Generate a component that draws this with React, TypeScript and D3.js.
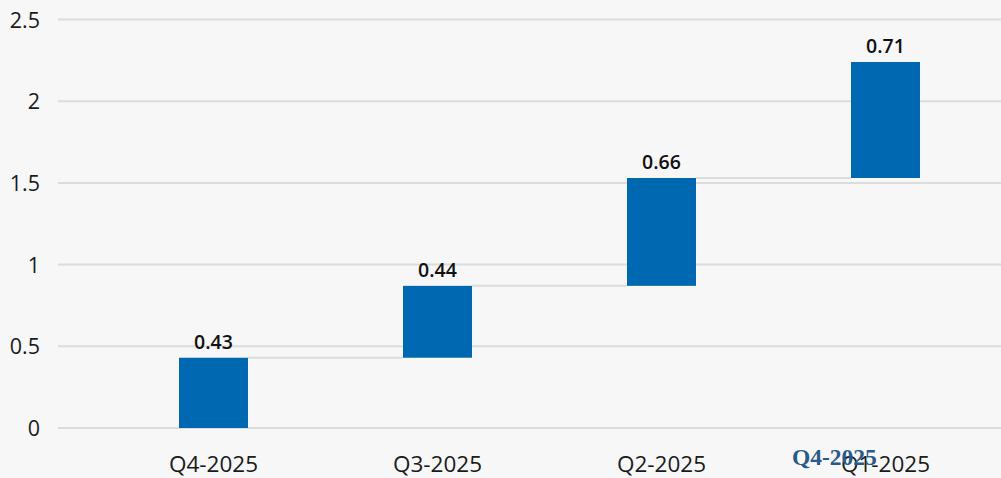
import React, { useEffect, useRef } from 'react';
import * as d3 from 'd3';

const categories = ['Q4-2025', 'Q3-2025', 'Q2-2025', 'Q1-2025'];
const values = [0.43, 0.44, 0.66, 0.71];
const yTicks = [0, 0.5, 1, 1.5, 2, 2.5];
const stray = 'Q4-2025';

const W = 1001;
const H = 478;

const App: React.FC = () => {
  const svgRef = useRef<SVGSVGElement>(null);

  useEffect(() => {
    if (!svgRef.current) return;
    const svg = d3.select(svgRef.current);
    svg.selectAll('*').remove();

    svg.append('rect').attr('width', W).attr('height', H).attr('fill', '#f7f7f7');

    const x = d3.scaleBand()
      .domain(categories)
      .range([101.5, 997.5])
      .paddingInner(0.692)
      .paddingOuter(0.346);

    const y = d3.scaleLinear().domain([0, 2.5]).range([428, 19.5]);

    // cumulative waterfall steps
    let acc = 0;
    const steps = values.map((v, i) => {
      const start = acc;
      acc += v;
      return { cat: categories[i], v, start, end: acc };
    });

    // grid
    svg.append('g')
      .selectAll('line')
      .data(yTicks)
      .join('line')
      .attr('x1', 58)
      .attr('x2', W)
      .attr('y1', d => y(d))
      .attr('y2', d => y(d))
      .attr('stroke', '#dcdcdc')
      .attr('stroke-width', 2);

    svg.append('g')
      .selectAll('text')
      .data(yTicks)
      .join('text')
      .attr('x', 40)
      .attr('y', d => y(d) + 8)
      .attr('text-anchor', 'end')
      .style('font-family', '"Open Sans", sans-serif')
      .style('font-size', '21.5px')
      .style('fill', '#1a1a1a')
      .text(d => String(d));

    // connectors
    svg.append('g')
      .selectAll('line')
      .data(steps.slice(0, -1))
      .join('line')
      .attr('x1', d => (x(d.cat) || 0) + x.bandwidth())
      .attr('x2', (d, i) => x(steps[i + 1].cat) || 0)
      .attr('y1', d => y(d.end))
      .attr('y2', d => y(d.end))
      .attr('stroke', '#dcdcdc')
      .attr('stroke-width', 2);

    // bars
    svg.append('g')
      .selectAll('rect')
      .data(steps)
      .join('rect')
      .attr('x', d => x(d.cat) || 0)
      .attr('y', d => y(d.end))
      .attr('width', x.bandwidth())
      .attr('height', d => y(d.start) - y(d.end))
      .attr('fill', '#0067b1');

    // value labels
    svg.append('g')
      .selectAll('text')
      .data(steps)
      .join('text')
      .attr('x', d => (x(d.cat) || 0) + x.bandwidth() / 2)
      .attr('y', d => y(d.end) - 9)
      .attr('text-anchor', 'middle')
      .style('font-family', '"Open Sans", sans-serif')
      .style('font-size', '19.5px')
      .style('font-weight', '600')
      .style('fill', '#111')
      .text(d => d.v.toFixed(2));

    // category labels
    svg.append('g')
      .selectAll('text')
      .data(categories)
      .join('text')
      .attr('x', d => (x(d) || 0) + x.bandwidth() / 2)
      .attr('y', 472)
      .attr('text-anchor', 'middle')
      .style('font-family', '"Open Sans", sans-serif')
      .style('font-size', '22.5px')
      .style('fill', '#1a1a1a')
      .text(d => d);

    svg.append('text')
      .attr('x', 792)
      .attr('y', 465)
      .style('font-family', '"Liberation Serif", "DejaVu Serif", serif')
      .style('font-size', '23.5px')
      .style('font-weight', 'bold')
      .style('fill', '#285a8c')
      .text(stray);
  }, []);

  return (
    <svg
      ref={svgRef}
      width={W}
      height={H}
      style={{ position: 'absolute', left: 0, top: 0, display: 'block' }}
    />
  );
};

export default App;
